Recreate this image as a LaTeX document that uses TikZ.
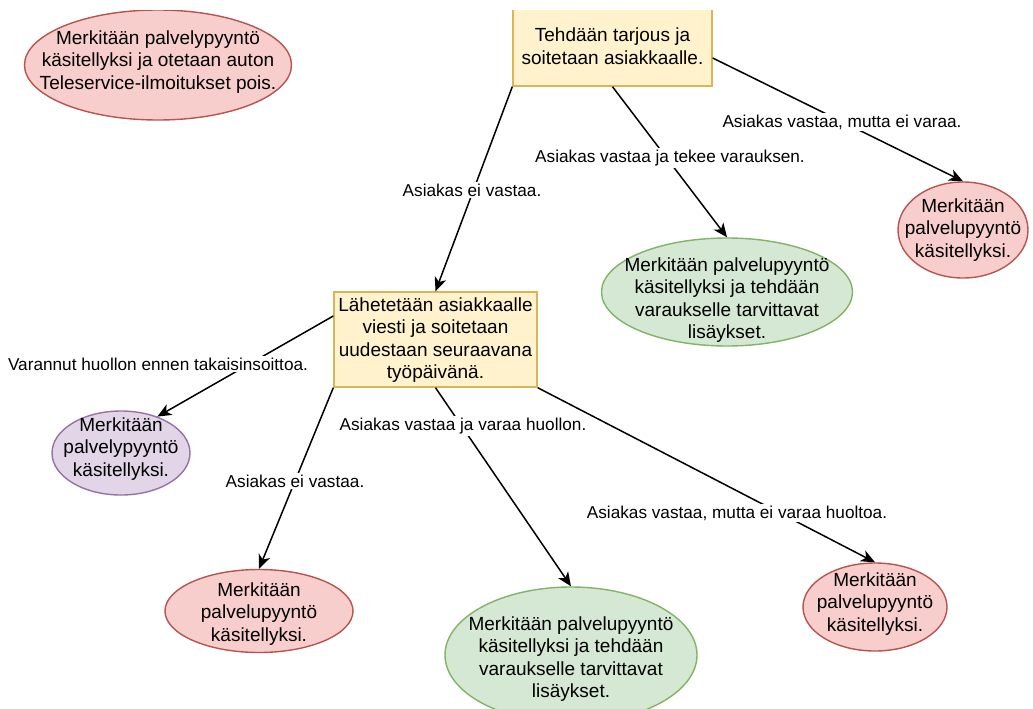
\documentclass[tikz,border=0pt]{standalone}
\usepackage{fontspec}
\setmainfont{Liberation Sans}
\usetikzlibrary{arrows.meta,shapes.geometric}

\definecolor{yfill}{HTML}{FFF2CC}
\definecolor{ystroke}{HTML}{D6B656}
\definecolor{rfill}{HTML}{F8CECC}
\definecolor{rstroke}{HTML}{B85450}
\definecolor{gfill}{HTML}{D5E8D4}
\definecolor{gstroke}{HTML}{82B366}
\definecolor{pfill}{HTML}{E1D5E7}
\definecolor{pstroke}{HTML}{9673A6}

\tikzset{
  stepbox/.style={draw=ystroke, fill=yfill, line width=1.4pt, inner sep=0pt},
  endell/.style={ellipse, line width=1.4pt, inner sep=0pt},
  redend/.style={endell, draw=rstroke, fill=rfill},
  greenend/.style={endell, draw=gstroke, fill=gfill},
  purpleend/.style={endell, draw=pstroke, fill=pfill},
  txt/.style={align=center, inner sep=0pt, font=\fontsize{19}{22.5}\selectfont},
  flow/.style={line width=1.5pt, -{Stealth[length=14pt,width=12pt,inset=4pt]}},
  lbl/.style={fill=white, inner sep=1.5pt, font=\fontsize{17.2}{20}\selectfont}
}

\begin{document}
\begin{tikzpicture}[x=1pt,y=-1pt]
\useasboundingbox (0,0) rectangle (1033,709);
\fill[white] (0,0) rectangle (1033,709);

\begin{scope}
\clip (0,11) rectangle (1033,709);

% process steps
\node[stepbox, minimum width=199pt, minimum height=78pt] (offer) at (612.5,47) {};
\node[txt] (offert) at (612.5,46) {Tehdään tarjous ja\\soitetaan asiakkaalle.};

\node[stepbox, minimum width=203pt, minimum height=95pt] (retry) at (435.5,339.5) {};
\node[txt] (retryt) at (435.5,340) {Lähetetään asiakkaalle\\viesti ja soitetaan\\uudestaan seuraavana\\työpäivänä.};

% outcomes
\node[redend, minimum width=267pt, minimum height=110pt] (tele) at (158,65) {};
\node[txt] (telet) at (158,62) {Merkitään palvelypyyntö\\käsitellyksi ja otetaan auton\\Teleservice-ilmoitukset pois.};

\node[redend, minimum width=130pt, minimum height=96pt] (noBookA) at (963,230) {};
\node[txt] (noBookAt) at (963,230) {Merkitään\\palvelupyyntö\\käsitellyksi.};

\node[greenend, minimum width=251pt, minimum height=108pt] (bookA) at (727,292) {};
\node[txt] (bookAt) at (727,300) {Merkitään palvelupyyntö\\käsitellyksi ja tehdään\\varaukselle tarvittavat\\lisäykset.};

\node[purpleend, minimum width=138pt, minimum height=84pt] (early) at (121,453) {};
\node[txt] (earlyt) at (121,449) {Merkitään\\palvelypyyntö\\käsitellyksi.};

\node[redend, minimum width=188pt, minimum height=83pt] (silent) at (259,611) {};
\node[txt] (silentt) at (259,614) {Merkitään\\palvelupyyntö\\käsitellyksi.};

\node[greenend, minimum width=252pt, minimum height=136pt] (bookB) at (571,655) {};
\node[txt] (bookBt) at (571,659) {Merkitään palvelupyyntö\\käsitellyksi ja tehdään\\varaukselle tarvittavat\\lisäykset.};

\node[redend, minimum width=144pt, minimum height=88pt] (noBookB) at (875,607) {};
\node[txt] (noBookBt) at (875,604) {Merkitään\\palvelupyyntö\\käsitellyksi.};
\end{scope}

% connectors
\draw[flow] (offer.south west) -- (retry.north);
\draw[flow] (offer.south) -- (bookA.north);
\draw[flow] ([yshift=-11pt]offer.east) -- (noBookA.north);
\draw[flow] ([yshift=23.5pt]retry.west) -- (early.45);
\draw[flow] (retry.south west) -- (silent.north);
\draw[flow] (retry.south) -- (bookB.north);
\draw[flow] (retry.south east) -- (noBookB.north);

% connector labels
\node[lbl] (l1) at (472,190) {Asiakas ei vastaa.};
\node[lbl] (l2) at (670,158) {Asiakas vastaa ja tekee varauksen.};
\node[lbl] (l3) at (842,122) {Asiakas vastaa, mutta ei varaa.};
\node[lbl] (l4) at (158,364) {Varannut huollon ennen takaisinsoittoa.};
\node[lbl] (l5) at (295,481) {Asiakas ei vastaa.};
\node[lbl] (l6) at (463,426) {Asiakas vastaa ja varaa huollon.};
\node[lbl] (l7) at (737,513) {Asiakas vastaa, mutta ei varaa huoltoa.};
\end{tikzpicture}
\end{document}
